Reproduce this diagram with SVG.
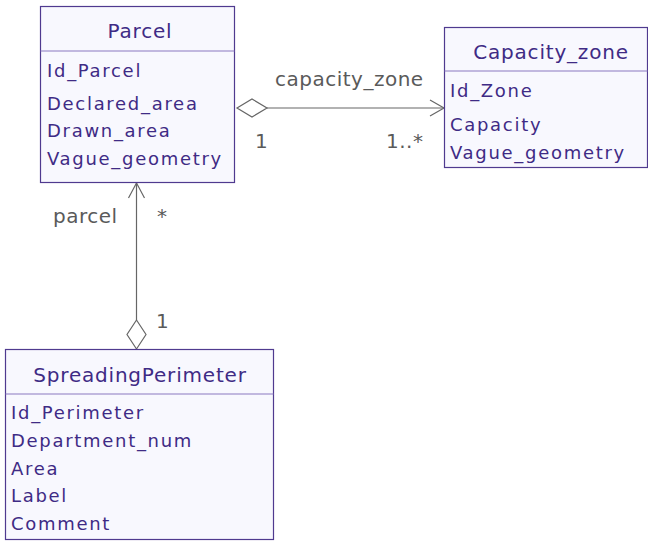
<svg xmlns="http://www.w3.org/2000/svg" width="648" height="542" viewBox="0 0 648 542">
<style>
.box{fill:#f8f8fe;stroke:#4f3a8f;stroke-width:1.2}
.sep{stroke:#8a78c0;stroke-width:1.2}
.title{font-family:"DejaVu Sans",Verdana,sans-serif;font-size:20px;fill:#3f2b85;text-anchor:middle;letter-spacing:0.8px}
.attr{font-family:"DejaVu Sans",Verdana,sans-serif;font-size:18px;fill:#3f2b85;letter-spacing:1.7px}
.lbl{font-family:"DejaVu Sans",Verdana,sans-serif;font-size:20px;fill:#5a5a5a;letter-spacing:0.5px}
.ln{stroke:#666;stroke-width:1.2;fill:none}
.dia{stroke:#666;stroke-width:1.2;fill:#fff}
</style>
<rect width="648" height="542" fill="#fff"/>
<g id="connectors">
<line class="ln" x1="267" y1="108" x2="444" y2="108"/>
<polygon class="dia" points="237,108 252,99 267,108 252,117"/>
<polyline class="ln" points="430,100 444,108 430,116"/>
<text class="lbl" x="275" y="86">capacity_zone</text>
<text class="lbl" x="255" y="148">1</text>
<text class="lbl" x="386" y="148">1..*</text>
<line class="ln" x1="136.5" y1="183" x2="136.5" y2="320"/>
<polygon class="dia" points="136.5,320 146,334.5 136.5,349 127,334.5"/>
<polyline class="ln" points="128.5,198 136.5,183 144.5,198"/>
<text class="lbl" x="53" y="223">parcel</text>
<text class="lbl" x="157" y="223">*</text>
<text class="lbl" x="156" y="328">1</text>
</g>
<g id="parcel">
<rect class="box" x="40.5" y="6.5" width="194" height="176"/>
<line class="sep" x1="40.5" y1="51" x2="234.5" y2="51"/>
<text class="title" x="140" y="38">Parcel</text>
<text class="attr" x="47" y="77">Id_Parcel</text>
<text class="attr" x="47" y="110">Declared_area</text>
<text class="attr" x="47" y="137">Drawn_area</text>
<text class="attr" x="47" y="165">Vague_geometry</text>
</g>
<g id="capacity_zone">
<rect class="box" x="444.5" y="27.5" width="203" height="140"/>
<line class="sep" x1="444.5" y1="71" x2="647.5" y2="71"/>
<text class="title" x="551" y="59">Capacity_zone</text>
<text class="attr" x="450" y="97">Id_Zone</text>
<text class="attr" x="450" y="131">Capacity</text>
<text class="attr" x="450" y="159">Vague_geometry</text>
</g>
<g id="spreading_perimeter">
<rect class="box" x="5.5" y="349.5" width="268" height="190"/>
<line class="sep" x1="5.5" y1="394" x2="273.5" y2="394"/>
<text class="title" x="140" y="382">SpreadingPerimeter</text>
<text class="attr" x="11" y="419">Id_Perimeter</text>
<text class="attr" x="11" y="447">Department_num</text>
<text class="attr" x="11" y="475">Area</text>
<text class="attr" x="11" y="502">Label</text>
<text class="attr" x="11" y="530">Comment</text>
</g>
</svg>
